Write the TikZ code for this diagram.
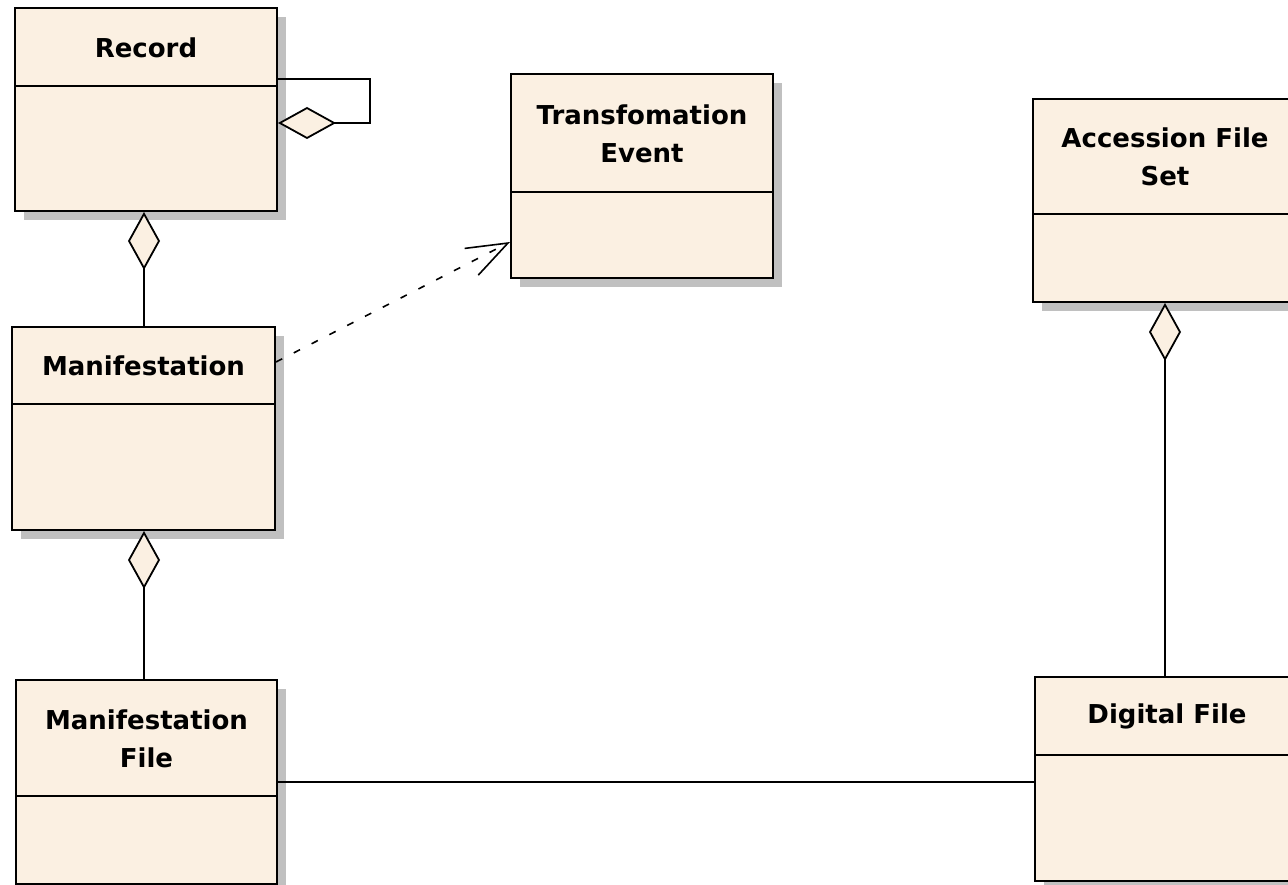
\documentclass[tikz,border=0pt]{standalone}
\usepackage{fontspec}
\setmainfont{DejaVu Sans}
\usetikzlibrary{arrows.meta,shadows,calc}
\definecolor{boxfill}{RGB}{251,240,226}
\definecolor{shadowgray}{RGB}{192,192,192}
\tikzset{
  cls/.style={draw=black, line width=2pt, fill=boxfill, rectangle, inner sep=0pt,
    drop shadow={shadow xshift=9pt, shadow yshift=-9pt, fill=shadowgray, opacity=1}},
  divider/.style={draw=black, line width=2pt},
  ctitle/.style={align=center, inner sep=0pt, font=\bfseries\fontsize{26}{38}\selectfont},
  agg/.style={draw=black, line width=1.8pt, -{Diamond[length=58pt, width=32pt, fill=boxfill]}},
  assoc/.style={draw=black, line width=1.8pt},
  dep/.style={draw=black, line width=1.6pt, dash pattern=on 7pt off 13pt,
    -{Straight Barb[length=41pt, width=30pt, line width=1.6pt]}}
}
% class box: name, left x, top y, width, height, title compartment height, title
\newcommand\classbox[7]{%
  \node[cls, minimum width=#4pt, minimum height=#5pt, anchor=north west] (#1) at (#2,#3) {};
  \draw[divider] ($(#1.north west)+(0,#6)$) -- ($(#1.north east)+(0,#6)$);
  \node[ctitle] (#1-t) at ($(#1.north)+(0,#6/2+1)$) {#7};
}
\begin{document}
\begin{tikzpicture}[x=1pt, y=-1pt]
  \clip (0,0) rectangle (1288,885);
  \fill[white] (0,0) rectangle (1288,885);

  \classbox{rec}{14}{7}{262}{203}{79}{Record}
  \classbox{te}{510}{73}{262}{204}{119}{Transfomation\\Event}
  \classbox{afs}{1032}{98}{264}{203}{116}{Accession File\\Set}
  \classbox{man}{11}{326}{263}{203}{78}{Manifestation}
  \classbox{mf}{15}{679}{261}{204}{117}{Manifestation\\File}
  \classbox{df}{1034}{676}{264}{204}{79}{Digital File}

  % attachment points of the vertical aggregations
  \coordinate (man-top) at ($(man.north)+(0.5,0)$);
  \coordinate (mf-top) at ($(mf.north)+(-2.5,0)$);
  \coordinate (afs-bot) at (afs.south);

  % self aggregation on Record
  \draw[agg] (rec.north east) ++(0,72) -- ++(92,0) -- ++(0,44)
    -- ($(rec.north east)+(0,116)$);
  % Record <>-- Manifestation
  \draw[agg] (man-top) -- (man-top |- rec.south);
  % Manifestation <>-- Manifestation File
  \draw[agg] (mf-top) -- (mf-top |- man.south);
  % Accession File Set <>-- Digital File
  \draw[agg] (afs-bot |- df.north) -- (afs-bot);
  % Manifestation File -- Digital File
  \draw[assoc] (mf.east) -- (mf.east -| df.west);
  % Manifestation ..> Transformation Event
  \draw[dep] ($(man.north east)+(0,36)$) -- ($(te.north west)+(0,169)$);
\end{tikzpicture}
\end{document}
